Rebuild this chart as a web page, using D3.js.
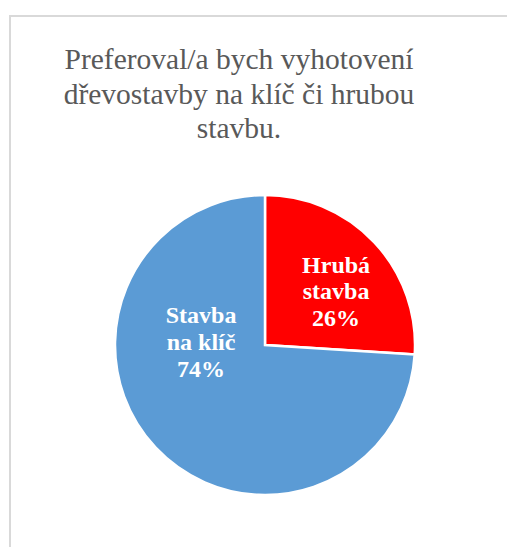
<!DOCTYPE html>
<html>
<head>
<meta charset="utf-8">
<script src="https://cdn.jsdelivr.net/npm/d3@7"></script>
<style>
  body { margin: 0; background: #fff; }
  svg { display: block; }
</style>
</head>
<body>
<svg width="507" height="547"></svg>
<script>
const titleLines = ['Preferoval/a bych vyhotovení', 'dřevostavby na klíč či hrubou', 'stavbu.']
const categories = ['Hrubá stavba', 'Stavba na klíč']
const values = [26, 74]
const labelLines = [['Hrubá', 'stavba', '26%'], ['Stavba', 'na klíč', '74%']]
const colors = ['#ff0000', '#5b9bd5']

// label placement (angle in degrees from 12 o'clock, distance from centre)
const labelPlace = [[53, 89], [272.7, 64]]

const svg = d3.select('svg')
const cx = 265
const cy = 345
const radius = 150

svg.append('rect')
    .attr('x', 10)
    .attr('y', 16)
    .attr('width', 520)
    .attr('height', 560)
    .attr('fill', '#fff')
    .attr('stroke', '#d9d9d9')
    .attr('stroke-width', 2)

svg.append('text')
    .attr('x', 239)
    .attr('y', 69)
    .attr('text-anchor', 'middle')
    .style('font-family', '"Liberation Serif", "Times New Roman", serif')
    .style('font-size', '29.5px')
    .attr('fill', '#595959')
    .selectAll('tspan')
    .data(titleLines)
    .join('tspan')
    .attr('x', 239)
    .attr('dy', (d, i) => (i === 0 ? 0 : 34.5))
    .text(d => d)

const pie = d3.pie().sort(null).value(d => d)
const arc = d3.arc().innerRadius(0).outerRadius(radius)
const arcs = pie(values)

const g = svg.append('g').attr('transform', `translate(${cx}, ${cy})`)

g.selectAll('path')
    .data(arcs)
    .join('path')
    .attr('d', arc)
    .attr('fill', (d, i) => colors[i])
    .attr('stroke', '#fff')
    .attr('stroke-width', 2.5)
    .attr('stroke-linejoin', 'miter')

const labels = g.selectAll('text.label')
    .data(arcs)
    .join('text')
    .attr('class', 'label')
    .attr('text-anchor', 'middle')
    .attr('fill', '#fff')
    .style('font-family', '"Liberation Serif", "Times New Roman", serif')
    .style('font-size', '24px')
    .style('font-weight', 'bold')
    .attr('transform', (d, i) => {
        const a = (labelPlace[i][0] * Math.PI) / 180
        const r = labelPlace[i][1]
        return `translate(${r * Math.sin(a)}, ${-r * Math.cos(a)})`
    })

labels.selectAll('tspan')
    .data((d, i) => labelLines[i].map((t, j) => ({ t, j })))
    .join('tspan')
    .attr('x', 0)
    .attr('y', d => (d.j - 1) * 26.7 + 8)
    .text(d => d.t)
</script>
</body>
</html>
